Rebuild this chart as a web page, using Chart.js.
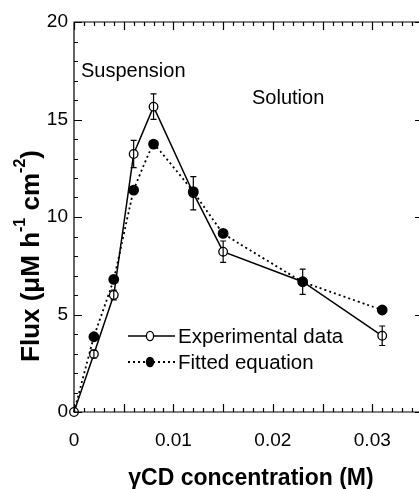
<!DOCTYPE html>
<html>
<head>
<meta charset="utf-8">
<script src="https://cdn.jsdelivr.net/npm/chart.js@4.4.1/dist/chart.umd.min.js"></script>
<style>
  html, body { margin: 0; padding: 0; background: #fff; }
  #wrap { width: 419px; height: 489px; }
</style>
</head>
<body>
<div id="wrap"><canvas id="flux" width="419" height="489"></canvas></div>
<script>
// ── data ──────────────────────────────────────────────────
const concExp = [0, 0.002, 0.004, 0.006, 0.008, 0.012, 0.015, 0.023, 0.031];
const fluxExp = [0, 2.97, 6.0, 13.23, 15.66, 11.22, 8.22, 6.68, 3.91];
const fluxErr = [0, 0.2, 0.25, 0.7, 0.65, 0.85, 0.55, 0.65, 0.5];

const concFit = [0, 0.002, 0.004, 0.006, 0.008, 0.012, 0.015, 0.023, 0.031];
const fluxFit = [0, 3.86, 6.8, 11.38, 13.74, 11.3, 9.16, 6.68, 5.23];

const xTickLabels = [0, 0.01, 0.02, 0.03];
const yTickLabels = [0, 5, 10, 15, 20];

const FONT = "'Liberation Sans', Arial, sans-serif";
const INK = '#000';

const pts = (xs, ys) => xs.map((x, i) => ({ x, y: ys[i] }));

// frame (right edge sits just past the canvas) with inward ticks
const frameTicks = {
  id: 'frameTicks',
  afterDraw(chart) {
    const { ctx, chartArea: a, scales: { x, y } } = chart;
    ctx.save();
    ctx.strokeStyle = INK;
    ctx.lineWidth = 1.2;
    ctx.beginPath();
    ctx.moveTo(a.right + 2, a.top); ctx.lineTo(a.left, a.top);
    ctx.lineTo(a.left, a.bottom); ctx.lineTo(a.right + 2, a.bottom);
    for (let i = 0; i <= 34; i++) {
      const px = Math.round(x.getPixelForValue(i * 0.001)) + 0.5;
      const len = i % 5 === 0 ? 8 : 4;
      ctx.moveTo(px, a.bottom); ctx.lineTo(px, a.bottom - len);
      ctx.moveTo(px, a.top); ctx.lineTo(px, a.top + len);
    }
    for (let i = 0; i <= 20; i++) {
      const py = Math.round(y.getPixelForValue(i)) + 0.5;
      const major = i % 5 === 0;
      ctx.moveTo(a.left, py); ctx.lineTo(a.left + (major ? 8 : 4), py);
      if (major) { ctx.moveTo(a.right + 2, py); ctx.lineTo(a.right - 4, py); }
    }
    ctx.stroke();
    ctx.restore();
  }
};

// error bars on the experimental series
const errorBars = {
  id: 'errorBars',
  afterDatasetsDraw(chart) {
    const { ctx, scales: { x, y } } = chart;
    ctx.save();
    ctx.strokeStyle = INK;
    ctx.lineWidth = 1.2;
    ctx.beginPath();
    concExp.forEach((c, i) => {
      if (!fluxErr[i]) return;
      const px = x.getPixelForValue(c);
      const top = y.getPixelForValue(fluxExp[i] + fluxErr[i]);
      const bot = y.getPixelForValue(fluxExp[i] - fluxErr[i]);
      ctx.moveTo(px, top); ctx.lineTo(px, bot);
      ctx.moveTo(px - 3, top); ctx.lineTo(px + 3, top);
      ctx.moveTo(px - 3, bot); ctx.lineTo(px + 3, bot);
    });
    ctx.stroke();
    ctx.restore();
  }
};

// titles, annotations and the legend box inside the plot
const labels = {
  id: 'labels',
  afterDraw(chart) {
    const { ctx } = chart;
    ctx.save();
    ctx.fillStyle = INK;
    ctx.textBaseline = 'middle';

    ctx.font = `20px ${FONT}`;
    ctx.textAlign = 'left';
    ctx.fillText('Suspension', 81, 71);
    ctx.fillText('Solution', 252, 98);

    // legend
    const rows = [
      { y: 336, text: 'Experimental data', dash: [], fill: '#fff' },
      { y: 362, text: 'Fitted equation', dash: [2, 3], fill: INK }
    ];
    ctx.font = `20.5px ${FONT}`;
    rows.forEach(r => {
      ctx.strokeStyle = INK;
      ctx.lineWidth = r.dash.length ? 1.8 : 1.4;
      ctx.setLineDash(r.dash);
      ctx.beginPath();
      ctx.moveTo(128, r.y); ctx.lineTo(175, r.y);
      ctx.stroke();
      ctx.setLineDash([]);
      ctx.beginPath();
      ctx.ellipse(150, r.y, 3.6, 4.6, 0, 0, Math.PI * 2);
      ctx.fillStyle = r.fill;
      ctx.fill();
      ctx.lineWidth = 1.3;
      ctx.stroke();
      ctx.fillStyle = INK;
      ctx.fillText(r.text, 178, r.y + 1);
    });

    // x title
    ctx.font = `bold 23px ${FONT}`;
    ctx.textAlign = 'center';
    ctx.fillText('\u03b3CD concentration (M)', 251, 479);

    // y title with superscripts
    ctx.translate(32, 256);
    ctx.rotate(-Math.PI / 2);
    const parts = [
      ['Flux (\u03bcM h', 0], ['-1', 1], [' cm', 0], ['-2', 1], [')', 0]
    ];
    const big = `bold 26px ${FONT}`, small = `bold 16px ${FONT}`;
    let w = 0;
    parts.forEach(([t, s]) => { ctx.font = s ? small : big; w += ctx.measureText(t).width; });
    let cx = -w / 2;
    ctx.textAlign = 'left';
    parts.forEach(([t, s]) => {
      ctx.font = s ? small : big;
      ctx.fillText(t, cx, s ? -11 : 0);
      cx += ctx.measureText(t).width;
    });
    ctx.restore();
  }
};

const ctx = document.getElementById('flux').getContext('2d');
new Chart(ctx, {
  type: 'scatter',
  data: {
    datasets: [
      {
        label: 'Experimental data',
        data: pts(concExp, fluxExp),
        showLine: true,
        borderColor: INK,
        borderWidth: 1.5,
        backgroundColor: '#fff',
        pointBorderColor: INK,
        pointBackgroundColor: '#fff',
        pointBorderWidth: 1.3,
        pointRadius: 4.3,
        tension: 0,
        clip: false,
        order: 1
      },
      {
        label: 'Fitted equation',
        data: pts(concFit, fluxFit),
        showLine: true,
        borderColor: INK,
        borderWidth: 1.8,
        borderDash: [2, 3],
        pointBorderColor: INK,
        pointBackgroundColor: INK,
        // the fitted curve starts at the origin without a marker
        pointRadius: c => c.dataIndex === 0 ? 0 : 4.5,
        tension: 0.05,
        clip: false,
        order: 0
      }
    ]
  },
  options: {
    responsive: false,
    animation: false,
    layout: { autoPadding: false, padding: { top: 22, right: 0, left: 0, bottom: 0 } },
    plugins: { legend: { display: false }, tooltip: { enabled: false } },
    scales: {
      x: {
        type: 'linear',
        min: 0,
        max: 0.0347,
        afterFit: s => { s.height = 77; s.paddingLeft = 0; s.paddingRight = 0; },
        afterBuildTicks: s => { s.ticks = xTickLabels.map(v => ({ value: v })); },
        grid: { display: false, drawTicks: false },
        border: { display: false },
        ticks: {
          color: INK,
          padding: 17,
          maxRotation: 0,
          font: { family: FONT, size: 19 },
          callback: v => v === 0 ? '0' : v.toFixed(2)
        }
      },
      y: {
        min: 0,
        max: 20,
        afterFit: s => { s.width = 74; },
        afterBuildTicks: s => { s.ticks = yTickLabels.map(v => ({ value: v })); },
        grid: { display: false, drawTicks: false },
        border: { display: false },
        ticks: {
          color: INK,
          padding: 6,
          font: { family: FONT, size: 19 }
        }
      }
    }
  },
  plugins: [frameTicks, errorBars, labels]
});
</script>
</body>
</html>
